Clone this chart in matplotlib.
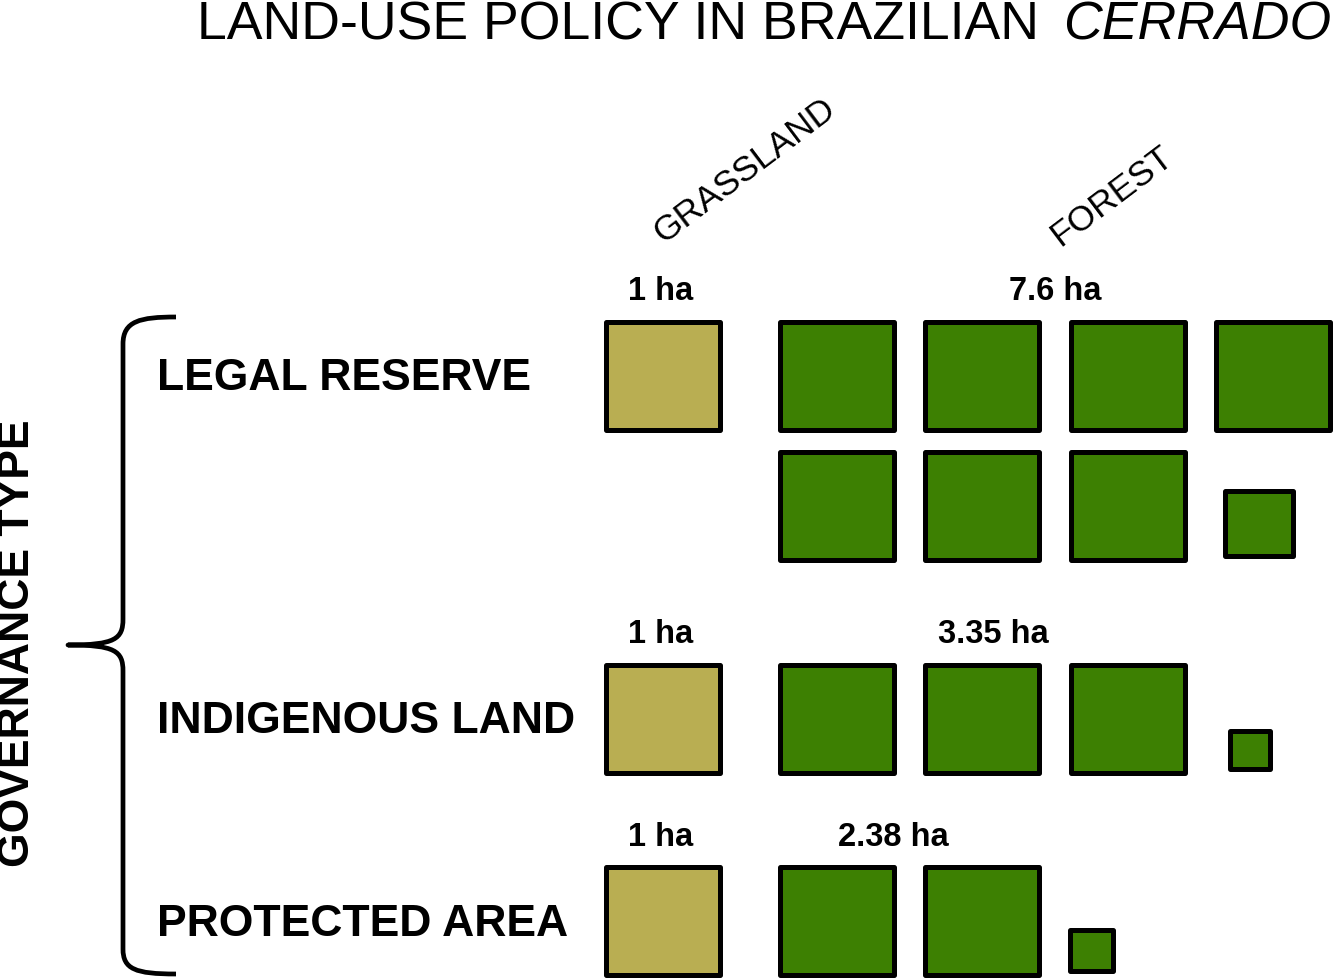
import matplotlib
matplotlib.use("Agg")
import matplotlib.pyplot as plt
from matplotlib.patches import Rectangle, PathPatch
from matplotlib.path import Path

plt.rcParams["font.family"] = ["Liberation Sans", "DejaVu Sans"]

# hectares of each cover type needed per governance type
governance = ["LEGAL RESERVE", "INDIGENOUS LAND", "PROTECTED AREA"]
grassland_ha = [1, 1, 1]
forest_ha = [7.6, 3.35, 2.38]
cover_types = ["GRASSLAND", "FOREST"]
title_main = "LAND-USE POLICY IN BRAZILIAN"
title_italic = "CERRADO"
side_label = "GOVERNANCE TYPE"

GRASS_COLOR = "#B9AE52"
FOREST_COLOR = "#3D8002"
LW = 3.6

# layout in pixels (y grows downwards)
W, H = 1333, 979
SQ_W, SQ_H = 114, 108
PITCH_X, PITCH_Y = 145.5, 130
PER_ROW = 4
GRASS_X = 605.5
FOREST_X = 779.5
row_top = [322.5, 665.5, 868]
small_dx = [9, 14, -1]
label_dx = [0, 11, -16]

fig = plt.figure(figsize=(W / 100, H / 100), dpi=100)
ax = fig.add_axes([0, 0, 1, 1])
ax.set_xlim(0, W)
ax.set_ylim(H, 0)
ax.axis("off")


def draw_units(x0, top, value, color, dx=0):
    n_full = int(value + 1e-9)
    frac = value - n_full
    for i in range(n_full):
        x = x0 + (i % PER_ROW) * PITCH_X
        y = top + (i // PER_ROW) * PITCH_Y
        ax.add_patch(Rectangle((x, y), SQ_W, SQ_H, facecolor=color,
                               edgecolor="black", lw=LW, joinstyle="round"))
    if frac > 1e-6:
        i = n_full
        w, h = frac * SQ_W, frac * SQ_H
        x = x0 + (i % PER_ROW) * PITCH_X + dx
        y = top + (i // PER_ROW) * PITCH_Y + SQ_H - 4 - h
        ax.add_patch(Rectangle((x, y), w, h, facecolor=color,
                               edgecolor="black", lw=LW, joinstyle="round"))
    return n_full


for r, name in enumerate(governance):
    top = row_top[r]
    draw_units(GRASS_X, top, grassland_ha[r], GRASS_COLOR)
    n_full = draw_units(FOREST_X, top, forest_ha[r], FOREST_COLOR, small_dx[r])

    ncols = min(n_full, PER_ROW)
    forest_cx = FOREST_X + ((ncols - 1) * PITCH_X + SQ_W) / 2 + label_dx[r]
    ax.text(GRASS_X + SQ_W / 2 - 2, top - 22, f"{grassland_ha[r]:g} ha",
            ha="center", va="baseline", fontsize=23.5, fontweight="bold")
    ax.text(forest_cx, top - 22, f"{forest_ha[r]:g} ha",
            ha="center", va="baseline", fontsize=23.5, fontweight="bold")

    ax.text(157, top + 68, name, ha="left", va="baseline",
            fontsize=32, fontweight="bold")

# column headers
ax.text(663, 244, cover_types[0], rotation=37, rotation_mode="anchor",
        ha="left", va="baseline", fontsize=25.5)
ax.text(1060, 247, cover_types[1], rotation=37, rotation_mode="anchor",
        ha="left", va="baseline", fontsize=25.5)

# title, with the biome name in italics
t = ax.text(197, 40, title_main, ha="left", va="baseline", fontsize=38.6)
ax.annotate(title_italic, xy=(1, 0), xycoords=t, xytext=(17, 0),
            textcoords="offset points", ha="left", va="bottom",
            fontsize=38.6, style="italic")

# curly brace grouping the rows
verts = [(176, 318), (140, 318), (123, 322), (123, 345),
         (123, 620),
         (123, 640), (115, 646), (68, 646),
         (115, 646), (123, 652), (123, 672),
         (123, 950),
         (123, 970), (135, 975), (176, 975)]
codes = [Path.MOVETO, Path.CURVE4, Path.CURVE4, Path.CURVE4,
         Path.LINETO,
         Path.CURVE4, Path.CURVE4, Path.CURVE4,
         Path.CURVE4, Path.CURVE4, Path.CURVE4,
         Path.LINETO,
         Path.CURVE4, Path.CURVE4, Path.CURVE4]
ax.add_patch(PathPatch(Path(verts, codes), fill=False, lw=3.4,
                       edgecolor="black", capstyle="butt", joinstyle="round"))

ax.text(18, 643, side_label, rotation=90, ha="center", va="center",
        fontsize=32, fontweight="bold")

fig.savefig("out.png", dpi=100)
